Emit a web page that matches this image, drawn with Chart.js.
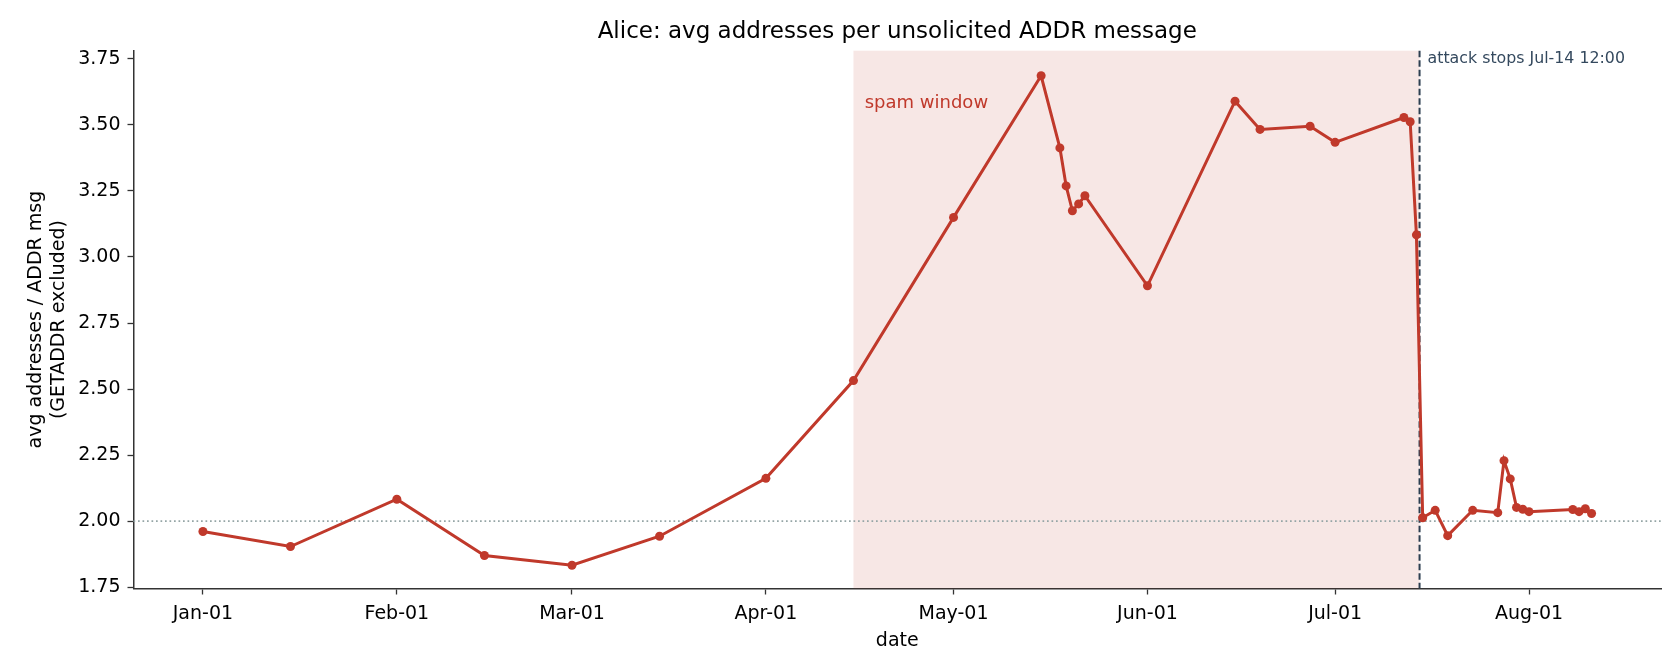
<!DOCTYPE html>
<html>
<head>
<meta charset="utf-8">
<script src="https://cdn.jsdelivr.net/npm/chart.js@4.4.1/dist/chart.umd.min.js"></script>
<style>
  html, body { margin: 0; padding: 0; background: #fff; }
  canvas { display: block; }
</style>
</head>
<body>
<canvas id="chart" width="1680" height="672"></canvas>
<script>
// observation dates (MM-DD) and avg addresses per unsolicited ADDR msg
const dates = [
  '01-01', '01-15', '02-01', '02-15', '03-01', '03-15', '04-01', '04-15',
  '05-01', '05-15', '05-18', '05-19', '05-20', '05-21', '05-22', '06-01',
  '06-15', '06-19', '06-27', '07-01', '07-12', '07-13', '07-14', '07-15',
  '07-17', '07-19', '07-23', '07-27', '07-28', '07-29', '07-30', '07-31',
  '08-01', '08-08', '08-09', '08-10', '08-11'
];
const avgAddrs = [
  1.961, 1.904, 2.083, 1.870, 1.833, 1.943, 2.162, 2.532,
  3.150, 3.686, 3.413, 3.269, 3.175, 3.201, 3.232, 2.891,
  3.590, 3.483, 3.495, 3.434, 3.528, 3.512, 3.084, 2.013,
  2.041, 1.945, 2.041, 2.032, 2.229, 2.160, 2.052, 2.045,
  2.036, 2.044, 2.036, 2.047, 2.029
];
const monthTicks = ['01-01', '02-01', '03-01', '04-01', '05-01', '06-01', '07-01', '08-01'];
const monthNames = ['Jan', 'Feb', 'Mar', 'Apr', 'May', 'Jun', 'Jul', 'Aug', 'Sep', 'Oct', 'Nov', 'Dec'];
const yTicks = [1.75, 2.00, 2.25, 2.50, 2.75, 3.00, 3.25, 3.50, 3.75];
const spamStart = '04-15';
const attackStop = '07-14 12:00';
const baseline = 2.0;
const chartTitle = 'Alice: avg addresses per unsolicited ADDR message';

const RED = '#c0392b';

// days since Jan-01 (non-leap year), with optional HH:MM
function dayOfYear(md) {
  const [m, rest] = md.split('-');
  const [d, hm] = rest.split(' ');
  let day = (Date.UTC(2023, +m - 1, +d) - Date.UTC(2023, 0, 1)) / 86400000;
  if (hm) {
    const [h, mi] = hm.split(':');
    day += (+h + mi / 60) / 24;
  }
  return day;
}

function fmtDate(md) {
  const [m, rest] = md.split('-');
  return monthNames[+m - 1] + '-' + rest;
}

const points = dates.map((d, i) => ({ x: dayOfYear(d), y: avgAddrs[i] }));
const tickDays = monthTicks.map(dayOfYear);
const xs = points.map(p => p.x);
const xSpan = Math.max(...xs) - Math.min(...xs);

const overlay = {
  id: 'overlay',
  beforeDatasetsDraw(chart) {
    const { ctx, chartArea: a, scales: { x, y } } = chart;
    const x0 = x.getPixelForValue(dayOfYear(spamStart));
    const x1 = x.getPixelForValue(dayOfYear(attackStop));
    ctx.save();
    ctx.fillStyle = 'rgba(192, 57, 43, 0.12)';
    ctx.fillRect(x0, a.top, x1 - x0, a.bottom - a.top);

    const yb = y.getPixelForValue(baseline);
    ctx.strokeStyle = '#95a5a6';
    ctx.lineWidth = 1.7;
    ctx.setLineDash([1.7, 2.8]);
    ctx.beginPath();
    ctx.moveTo(a.left, yb);
    ctx.lineTo(a.right, yb);
    ctx.stroke();

    ctx.strokeStyle = '#2c3e50';
    ctx.lineWidth = 2;
    ctx.setLineDash([6.5, 3]);
    ctx.beginPath();
    ctx.moveTo(x1, a.top);
    ctx.lineTo(x1, a.bottom);
    ctx.stroke();
    ctx.restore();
  },
  afterDraw(chart) {
    const { ctx, chartArea: a, scales: { x, y } } = chart;
    ctx.save();
    ctx.textBaseline = 'middle';
    ctx.textAlign = 'left';
    ctx.fillStyle = RED;
    ctx.font = '18px "DejaVu Sans"';
    ctx.fillText('spam window', x.getPixelForValue(dayOfYear(spamStart) + 1.8), y.getPixelForValue(3.580));
    ctx.fillStyle = '#34495e';
    ctx.font = '15.8px "DejaVu Sans"';
    ctx.fillText('attack stops ' + fmtDate(attackStop), x.getPixelForValue(dayOfYear(attackStop)) + 8, a.top + 8.6);

    // title centred over the axes
    ctx.fillStyle = '#000';
    ctx.textAlign = 'center';
    ctx.font = '23px "DejaVu Sans"';
    ctx.fillText(chartTitle, (a.left + a.right) / 2, 32.5);
    ctx.restore();
  }
};

Chart.defaults.font.family = '"DejaVu Sans", sans-serif';
Chart.defaults.color = '#000';

new Chart(document.getElementById('chart'), {
  type: 'line',
  data: {
    datasets: [{
      data: points,
      borderColor: RED,
      backgroundColor: RED,
      borderWidth: 3,
      pointRadius: 4.5,
      pointBorderWidth: 0,
      pointBackgroundColor: RED,
      tension: 0
    }]
  },
  options: {
    responsive: false,
    animation: false,
    devicePixelRatio: 1,
    layout: { padding: { right: 19, left: 0, top: 50.7, bottom: 0 } },
    plugins: {
      legend: { display: false },
      tooltip: { enabled: false },
      title: { display: false }
    },
    scales: {
      x: {
        type: 'linear',
        min: Math.min(...xs) - 0.05 * xSpan,
        max: Math.max(...xs) + 0.05 * xSpan,
        afterFit(scale) { scale.height = 83.5; },
        afterBuildTicks(scale) { scale.ticks = tickDays.map(v => ({ value: v })); },
        ticks: {
          autoSkip: false,
          maxRotation: 0,
          padding: 8.5,
          font: { size: 19 },
          color: '#000',
          callback(value) {
            const i = tickDays.indexOf(value);
            return i >= 0 ? fmtDate(monthTicks[i]) : '';
          }
        },
        grid: { drawOnChartArea: false, drawTicks: true, tickLength: 6, color: '#333', tickWidth: 1.3 },
        border: { display: true, color: '#333', width: 1.5 },
        title: { display: true, text: 'date', font: { size: 19 }, color: '#000', padding: { top: 0, bottom: 20 } }
      },
      y: {
        min: 1.745,
        max: 3.781,
        afterFit(scale) { scale.width = 133.5; },
        afterBuildTicks(scale) { scale.ticks = yTicks.map(v => ({ value: v })); },
        ticks: {
          padding: 7,
          font: { size: 19 },
          color: '#000',
          callback(value) { return value.toFixed(2); }
        },
        grid: { drawOnChartArea: false, drawTicks: true, tickLength: 6, color: '#333', tickWidth: 1.3 },
        border: { display: true, color: '#333', width: 1.5 },
        title: {
          display: true,
          text: ['avg addresses / ADDR msg', '(GETADDR excluded)'],
          font: { size: 19 },
          color: '#000',
          padding: { top: 25, bottom: 0 }
        }
      }
    }
  },
  plugins: [overlay]
});
</script>
</body>
</html>
